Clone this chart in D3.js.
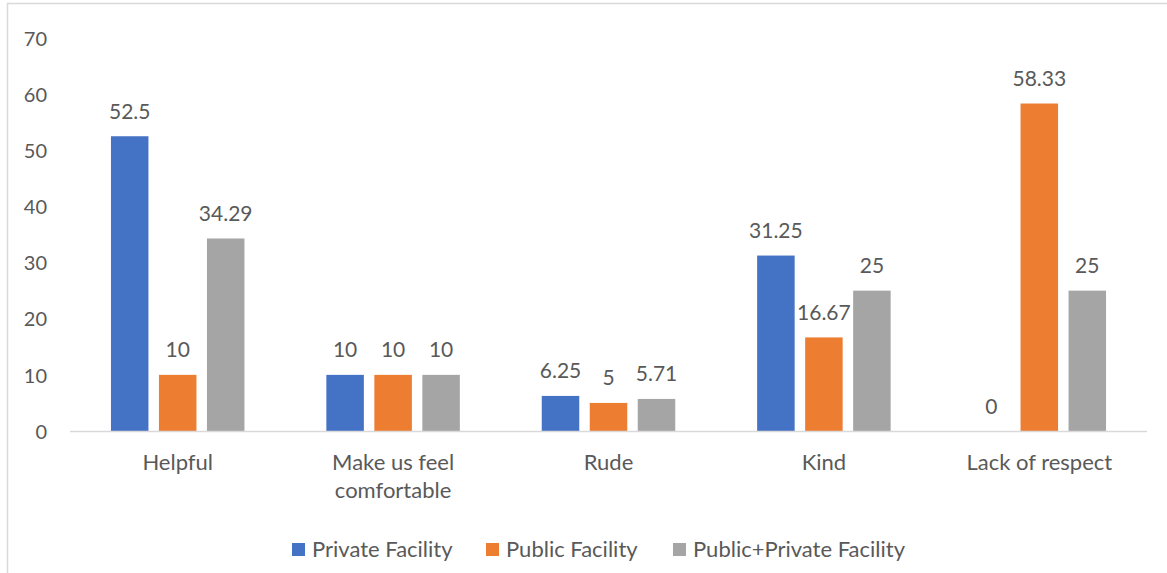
<!DOCTYPE html>
<html>
<head>
<meta charset="utf-8">
<script src="https://cdn.jsdelivr.net/npm/d3@7"></script>
<style>
  html, body { margin: 0; padding: 0; background: #fff; }
  svg { display: block; }
  text { font-family: Lato, "Open Sans", sans-serif; fill: #595959; }
</style>
</head>
<body>
<svg id="chart" width="1167" height="573"></svg>
<script>
// Attitude categories (x axis) and the three facility series (percent)
const categories = [["Helpful"], ["Make us feel", "comfortable"], ["Rude"], ["Kind"], ["Lack of respect"]];
const seriesNames = ["Private Facility", "Public Facility", "Public+Private Facility"];
const privateFacility = [52.5, 10, 6.25, 31.25, 0];
const publicFacility = [10, 10, 5, 16.67, 58.33];
const mixedFacility = [34.29, 10, 5.71, 25, 25];
const yTicks = [0, 10, 20, 30, 40, 50, 60, 70];
const colors = ["#4472C4", "#ED7D31", "#A5A5A5"];

const series = [privateFacility, publicFacility, mixedFacility];

const svg = d3.select("#chart");
const W = 1167, H = 573;

// chart frame
svg.append("path")
  .attr("d", `M7.5,${H} V3.5 H${W}`)
  .attr("fill", "none").attr("stroke", "#D9D9D9").attr("stroke-width", 1.5);

const plot = { left: 70, right: 1147, top: 38, bottom: 431 };

const x = d3.scaleBand()
  .domain(d3.range(categories.length))
  .range([plot.left, plot.right])
  .paddingInner(0).paddingOuter(0);

const barW = 37.5, barStep = 48;
const xs = d3.scaleBand().domain(d3.range(3)).range([0, barStep * 3]).padding(0);

const y = d3.scaleLinear().domain([0, 70]).range([plot.bottom, plot.top]);

// y axis labels (no axis line)
const yAxis = d3.axisLeft(y).tickValues(yTicks).tickSize(0).tickPadding(0);
const yg = svg.append("g").attr("transform", "translate(47,0)").call(yAxis);
yg.select(".domain").remove();
yg.selectAll("text")
  .style("font-family", "Lato, sans-serif")
  .style("font-size", "20px")
  .attr("fill", "#595959")
  .attr("dy", "0.36em");

// bars with value labels
const groups = svg.append("g").selectAll("g")
  .data(categories)
  .join("g")
  .attr("transform", (d, i) => `translate(${x(i) + x.bandwidth() / 2 - (barStep * 2 + barW) / 2},0)`);

groups.each(function(cat, ci) {
  const g = d3.select(this);
  series.forEach((s, si) => {
    const v = s[ci];
    g.append("rect")
      .attr("x", xs(si))
      .attr("y", y(v))
      .attr("width", barW)
      .attr("height", y(0) - y(v))
      .attr("fill", colors[si]);
    g.append("text")
      .attr("x", xs(si) + barW / 2)
      .attr("y", y(v) - 17.5)
      .attr("text-anchor", "middle")
      .style("font-size", "21px")
      .text(v);
  });
});

// category axis baseline
svg.append("line")
  .attr("x1", plot.left).attr("x2", plot.right)
  .attr("y1", y(0) + 0.5).attr("y2", y(0) + 0.5)
  .attr("stroke", "#D9D9D9").attr("stroke-width", 1.5);

// category labels
svg.append("g").selectAll("text")
  .data(categories)
  .join("text")
  .attr("x", (d, i) => x(i) + x.bandwidth() / 2)
  .attr("y", 470)
  .attr("text-anchor", "middle")
  .style("font-size", "22px")
  .each(function(lines) {
    const t = d3.select(this);
    lines.forEach((ln, li) => {
      t.append("tspan")
        .attr("x", t.attr("x"))
        .attr("dy", li === 0 ? 0 : 28)
        .text(ln);
    });
  });

// legend
const legendX = [292, 486, 673];
const lg = svg.append("g").selectAll("g")
  .data(seriesNames)
  .join("g")
  .attr("transform", (d, i) => `translate(${legendX[i]},543)`);
lg.append("rect").attr("width", 13).attr("height", 13).attr("fill", (d, i) => colors[i]);
lg.append("text")
  .attr("x", 20).attr("y", 13.5)
  .style("font-size", "22px")
  .text(d => d);
</script>
</body>
</html>
